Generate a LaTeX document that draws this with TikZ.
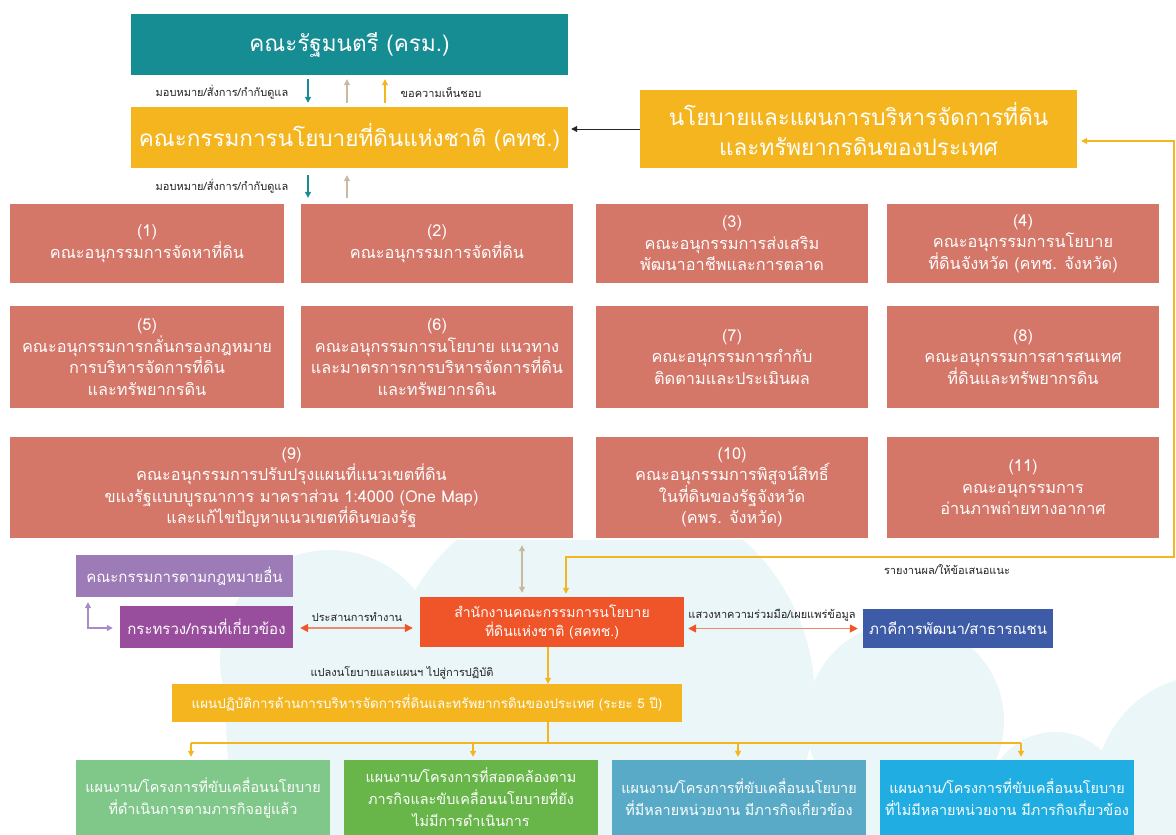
\documentclass[tikz,border=0pt]{standalone}
\usepackage{fontspec}
\setmainfont[Script=Thai]{Loma}
\usetikzlibrary{arrows.meta}
\definecolor{cteal}{HTML}{168C93}
\definecolor{cgold}{HTML}{F4B51F}
\definecolor{cred}{HTML}{D47668}
\definecolor{cpurA}{HTML}{9C7BB6}
\definecolor{cpurB}{HTML}{994D9D}
\definecolor{cpurL}{HTML}{A98BC8}
\definecolor{corange}{HTML}{EF5529}
\definecolor{corL}{HTML}{F08A6C}
\definecolor{cnavy}{HTML}{3E5BA8}
\definecolor{cgrA}{HTML}{80C78A}
\definecolor{cgrB}{HTML}{68B54A}
\definecolor{cblA}{HTML}{58AAC7}
\definecolor{cblB}{HTML}{1FADE2}
\definecolor{cbeige}{HTML}{C9B9A1}
\definecolor{clab}{HTML}{222222}
\definecolor{ccloud}{HTML}{EBF6F9}
\begin{document}
\begin{tikzpicture}[x=1pt,y=-1pt,
  box/.style={draw=none, inner sep=2pt, align=center, text=white, font=\fontsize{15}{21}\selectfont},
  big/.style={box, font=\fontsize{22.5}{30}\selectfont},
  redbox/.style={box, fill=cred, minimum width=272pt, font=\fontsize{16.3}{21.5}\selectfont},
  lab/.style={text=clab, inner sep=1pt, font=\fontsize{11}{13}\selectfont},
  tip/.style={-{Triangle[length=6pt,width=6pt]}},
  ln/.style={line width=1.2pt}
]
\useasboundingbox (0,0) rectangle (1176,835);
% background cloud
\begin{scope}
\clip (0,540) rectangle (1176,835);
\fill[ccloud] (330,660) circle[radius=110pt];
\fill[ccloud] (600,700) circle[radius=215pt];
\fill[ccloud] (905,721) circle[radius=99pt];
\fill[ccloud] (1055,800) circle[radius=68pt];
\fill[ccloud] (1210,790) circle[radius=115pt];
\fill[ccloud] (224,690) -- (700,690) -- (700,835) -- (232,835) -- cycle;
\fill[ccloud] (600,760) rectangle (1176,835);
\end{scope}

% top boxes
\node[big, fill=cteal, minimum width=437pt, minimum height=61pt] (cab) at (349.5,44.5) {คณะรัฐมนตรี (ครม.)};
\node[big, fill=cgold, minimum width=437pt, minimum height=61pt] (nlpc) at (349.5,137.5) {คณะกรรมการนโยบายที่ดินแห่งชาติ (คทช.)};
\node[big, fill=cgold, minimum width=437pt, minimum height=78pt] (pol) at (858.5,129) {นโยบายและแผนการบริหารจัดการที่ดิน\\และทรัพยากรดินของประเทศ};

% subcommittees
\node[redbox, minimum width=274pt, minimum height=79pt] (s1) at (147,243.5) {(1)\\คณะอนุกรรมการจัดหาที่ดิน};
\node[redbox, minimum height=79pt] (s2) at (437,243.5) {(2)\\คณะอนุกรรมการจัดที่ดิน};
\node[redbox, minimum height=79pt] (s3) at (732,243.5) {(3)\\คณะอนุกรรมการส่งเสริม\\พัฒนาอาชีพและการตลาด};
\node[redbox, minimum height=79pt] (s4) at (1023,243.5) {(4)\\คณะอนุกรรมการนโยบาย\\ที่ดินจังหวัด (คทช. จังหวัด)};
\node[redbox, minimum width=274pt, minimum height=102pt] (s5) at (147,357) {(5)\\คณะอนุกรรมการกลั่นกรองกฎหมาย\\การบริหารจัดการที่ดิน\\และทรัพยากรดิน};
\node[redbox, minimum height=102pt] (s6) at (437,357) {(6)\\คณะอนุกรรมการนโยบาย แนวทาง\\และมาตรการการบริหารจัดการที่ดิน\\และทรัพยากรดิน};
\node[redbox, minimum height=102pt] (s7) at (732,357) {(7)\\คณะอนุกรรมการกำกับ\\ติดตามและประเมินผล};
\node[redbox, minimum height=102pt] (s8) at (1023,357) {(8)\\คณะอนุกรรมการสารสนเทศ\\ที่ดินและทรัพยากรดิน};
\node[redbox, minimum width=563pt, minimum height=101pt] (s9) at (291.5,487.5) {(9)\\คณะอนุกรรมการปรับปรุงแผนที่แนวเขตที่ดิน\\ขแงรัฐแบบบูรณาการ มาคราส่วน 1:4000 (One Map)\\และแก้ไขปัญหาแนวเขตที่ดินของรัฐ};
\node[redbox, minimum height=101pt] (s10) at (732,487.5) {(10)\\คณะอนุกรรมการพิสูจน์สิทธิ์\\ในที่ดินของรัฐจังหวัด\\(คพร. จังหวัด)};
\node[redbox, minimum height=101pt] (s11) at (1023,487.5) {(11)\\คณะอนุกรรมการ\\อ่านภาพถ่ายทางอากาศ};

% middle row
\node[box, fill=cpurA, minimum width=217pt, minimum height=42pt] (other) at (184.5,576) {คณะกรรมการตามกฎหมายอื่น};
\node[box, fill=cpurB, minimum width=173pt, minimum height=42pt] (min) at (206.5,627) {กระทรวง/กรมที่เกี่ยวข้อง};
\node[box, fill=corange, minimum width=264pt, minimum height=50pt, font=\fontsize{14}{19}\selectfont] (onlb) at (552,622) {สำนักงานคณะกรรมการนโยบาย\\ที่ดินแห่งชาติ (สคทช.)};
\node[box, fill=cnavy, minimum width=190pt, minimum height=39pt, font=\fontsize{15}{20}\selectfont] (pub) at (958,628.5) {ภาคีการพัฒนา/สาธารณชน};
\node[box, fill=cgold, minimum width=510pt, minimum height=38pt, font=\fontsize{13.4}{18}\selectfont] (plan) at (427,703) {แผนปฏิบัติการด้านการบริหารจัดการที่ดินและทรัพยากรดินของประเทศ (ระยะ 5 ปี)};

% bottom boxes
\node[box, fill=cgrA, minimum width=254pt, minimum height=75pt, font=\fontsize{14.4}{22}\selectfont] (bA) at (203,797.5) {แผนงาน/โครงการที่ขับเคลื่อนนโยบาย\\ที่ดำเนินการตามภารกิจอยู่แล้ว};
\node[box, fill=cgrB, minimum width=254pt, minimum height=75pt, font=\fontsize{14.4}{22}\selectfont] (bB) at (471,797.5) {แผนงาน/โครงการที่สอดคล้องตาม\\ภารกิจและขับเคลื่อนนโยบายที่ยัง\\ไม่มีการดำเนินการ};
\node[box, fill=cblA, minimum width=254pt, minimum height=75pt, font=\fontsize{14.4}{22}\selectfont] (bC) at (739,797.5) {แผนงาน/โครงการที่ขับเคลื่อนนโยบาย\\ที่มีหลายหน่วยงาน มีภารกิจเกี่ยวข้อง};
\node[box, fill=cblB, minimum width=254pt, minimum height=75pt, font=\fontsize{14.4}{22}\selectfont] (bD) at (1007,797.5) {แผนงาน/โครงการที่ขับเคลื่อนนโยบาย\\ที่ไม่มีหลายหน่วยงาน มีภารกิจเกี่ยวข้อง};

% labels
\node[lab] (l1) at (222,92) {มอบหมาย/สั่งการ/กำกับดูแล};
\node[lab] (l2) at (441,92) {ขอความเห็นชอบ};
\node[lab] (l3) at (222,186) {มอบหมาย/สั่งการ/กำกับดูแล};
\node[lab] (l4) at (357,617) {ประสานการทำงาน};
\node[lab] (l5) at (772,615) {แสวงหาความร่วมมือ/เผยแพร่ข้อมูล};
\node[lab] (l6) at (947,570) {รายงานผล/ให้ข้อเสนอแนะ};
\node[lab] (l7) at (402,673) {แปลงนโยบายและแผนฯ ไปสู่การปฏิบัติ};

% coordinates
\coordinate (a1) at (308,0);
\coordinate (a2) at (347,0);
\coordinate (a3) at (385,0);
\coordinate (b1) at (522,0);
\coordinate (g1) at (548,0);
\coordinate (rk) at (566,557);
\coordinate (r1) at (1174,557);
\coordinate (r2) at (1174,141);
\coordinate (p1) at (88,628);
\coordinate (hl) at (191,743);
\coordinate (hb) at (473,743);
\coordinate (hc) at (738,743);
\coordinate (hr) at (1021,743);

% connectors
\draw[ln, tip, cteal] ([yshift=-4pt]cab.south -| a1) -- ([yshift=4pt]nlpc.north -| a1);
\draw[ln, tip, cbeige] ([yshift=4pt]nlpc.north -| a2) -- ([yshift=-4pt]cab.south -| a2);
\draw[ln, tip, cgold] ([yshift=4pt]nlpc.north -| a3) -- ([yshift=-4pt]cab.south -| a3);
\draw[ln, tip, cteal] ([yshift=-7pt]nlpc.south -| a1) -- ([yshift=6pt]s2.north -| a1);
\draw[ln, tip, cbeige] ([yshift=6pt]s2.north -| a2) -- ([yshift=-7pt]nlpc.south -| a2);
\draw[line width=1pt, tip, black!85] (pol.west) -- ([xshift=3pt]nlpc.east |- pol.west);
\draw[ln, cgold, {Triangle[length=6pt,width=6pt]}-{Triangle[length=6pt,width=6pt]}]
  ([yshift=-12pt,xshift=4pt]pol.east) -- (r2) -- (r1) -- (rk) -- ([yshift=3pt]onlb.north -| rk);
\draw[ln, cbeige, {Triangle[length=6pt,width=6pt]}-{Triangle[length=6pt,width=6pt]}]
  ([yshift=-7pt]s9.south -| b1) -- ([yshift=4pt]onlb.north -| b1);
\draw[ln, cpurL, {Triangle[length=6pt,width=6pt]}-{Triangle[length=6pt,width=6pt]}]
  ([yshift=-5pt]other.south -| p1) -- (p1) -- ([xshift=-7pt]min.west |- p1);
\draw[line width=1.6pt, corL, {Triangle[length=8pt,width=8pt,color=corange]}-{Triangle[length=8pt,width=8pt,color=corange]}]
  ([xshift=7pt]min.east |- p1) -- ([xshift=-7pt]onlb.west |- p1);
\draw[line width=1.6pt, corL, {Triangle[length=8pt,width=8pt,color=corange]}-{Triangle[length=8pt,width=8pt,color=corange]}]
  ([xshift=4pt]onlb.east |- pub.west) -- ([xshift=-5pt]pub.west);
\draw[ln, tip, cgold] (onlb.south -| g1) -- (plan.north -| g1);
\draw[ln, cgold] (plan.south -| g1) -- (g1 |- hb);
\draw[ln, cgold] (hl) -- (hr);
\draw[ln, tip, cgold] (hl) -- ([yshift=3pt]bA.north -| hl);
\draw[ln, tip, cgold] (hb) -- ([yshift=3pt]bB.north -| hb);
\draw[ln, tip, cgold] (hc) -- ([yshift=3pt]bC.north -| hc);
\draw[ln, tip, cgold] (hr) -- ([yshift=3pt]bD.north -| hr);
\end{tikzpicture}
\end{document}
